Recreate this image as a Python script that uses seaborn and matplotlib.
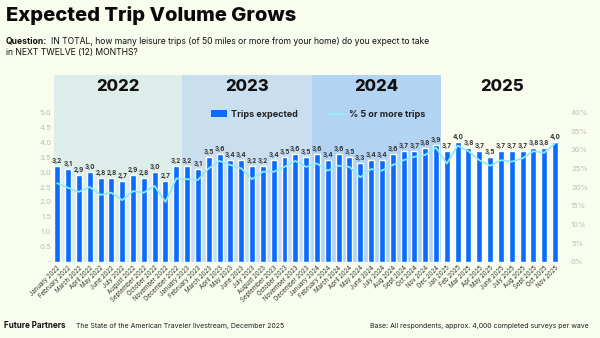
import numpy as np
import pandas as pd
import matplotlib
matplotlib.use("Agg")
import matplotlib.pyplot as plt
import seaborn as sns
from matplotlib.patches import Patch
from matplotlib.lines import Line2D

months = ["January 2022", "February 2022", "March 2022", "April 2022", "May 2022", "June 2022",
          "July 2022", "August 2022", "September 2022", "October 2022", "November 2022", "December 2022",
          "January 2023", "February 2023", "March 2023", "April 2023", "May 2023", "June 2023",
          "July 2023", "August 2023", "September 2023", "October 2023", "November 2023", "December 2023",
          "January 2024", "February 2024", "March 2024", "April 2024", "May 2024", "June 2024",
          "July 2024", "Aug 2024", "Sept 2024", "Oct 2024", "Nov 2024", "Dec 2024",
          "Jan 2025", "Feb 2025", "Mar 2025", "Apr 2025", "May 2025", "June 2025",
          "July 2025", "Aug 2025", "Sept 2025", "Oct 2025", "Nov 2025"]
trips = [3.2, 3.1, 2.9, 3.0, 2.8, 2.8, 2.7, 2.9, 2.8, 3.0, 2.7, 3.2,
         3.2, 3.1, 3.5, 3.6, 3.4, 3.4, 3.2, 3.2, 3.4, 3.5, 3.6, 3.5,
         3.6, 3.4, 3.6, 3.5, 3.3, 3.4, 3.4, 3.6, 3.7, 3.7, 3.8, 3.9,
         3.7, 4.0, 3.8, 3.7, 3.5, 3.7, 3.7, 3.7, 3.8, 3.8, 4.0]
pct5 = [21.0, 19.8, 18.7, 20.0, 17.9, 18.5, 16.5, 18.9, 18.5, 20.3, 16.0, 22.3,
        22.1, 21.9, 25.0, 27.0, 25.9, 25.0, 22.1, 24.1, 24.1, 25.4, 27.0, 25.4,
        26.3, 24.4, 25.7, 25.4, 22.6, 24.8, 24.4, 25.9, 27.2, 28.1, 28.6, 30.5,
        26.3, 31.1, 29.6, 27.2, 25.7, 27.2, 26.8, 27.7, 29.6, 29.2, 31.7]
years = ["2022", "2023", "2024", "2025"]
year_spans = [(-0.3, 11.5), (11.5, 23.5), (23.5, 35.5), (35.5, 46.7)]
year_colors = ["#DDEDE9", "#C9DFF0", "#B3D3F3", None]

BG = "#F8FDEE"
BAR = "#0A6CFF"
LINE = "#8EEBFF"

sns.set_theme(style="white")
plt.rcParams["font.family"] = ["Inter", "DejaVu Sans"]

df = pd.DataFrame({"month": months, "trips": trips, "pct": pct5})

fig = plt.figure(figsize=(6, 3.38), dpi=100, facecolor=BG)
ax = fig.add_axes([0.09, 0.2257, 0.8477, 0.5523])
ax.set_facecolor(BG)

for (x0, x1), c in zip(year_spans, year_colors):
    if c:
        ax.axvspan(x0, x1, color=c, zorder=0, lw=0)

sns.barplot(data=df, x="month", y="trips", color=BAR, width=0.55, ax=ax,
            saturation=1, zorder=2)
for i, v in enumerate(trips):
    ax.text(i, v + 0.07, f"{v:.1f}".replace(".", ","), ha="center", va="bottom",
            fontsize=4.6, color="#333333", fontweight="bold", zorder=5)

ax.set_xlim(-0.3, 46.7)
ax.set_ylim(0, 6.25)
ax.set_yticks(np.arange(0, 5.01, 0.5))
ax.set_yticklabels(["-"] + [f"{v:.1f}" for v in np.arange(0.5, 5.01, 0.5)],
                   fontsize=5.5, color="#BDBDBD")
ax.set_xticks(range(len(months)))
ax.set_xticklabels(months, rotation=45, ha="right", rotation_mode="anchor",
                   fontsize=4.4, color="#333333")
ax.tick_params(axis="both", length=0, pad=2)
ax.set_xlabel("")
ax.set_ylabel("")
for s in ax.spines.values():
    s.set_visible(False)

for (x0, x1), y in zip(year_spans, years):
    ax.text((x0 + x1) / 2, 5.85, y, ha="center", va="center", fontsize=12,
            fontweight="heavy", color="#111111")

ax2 = ax.twinx()
sns.lineplot(x=np.arange(len(pct5)), y=pct5, ax=ax2, color=LINE, lw=1.3, zorder=4)
ax2.set_ylim(0, 50)
ax2.set_yticks(np.arange(0, 41, 5))
ax2.set_yticklabels([f"{v}%" for v in range(0, 41, 5)], fontsize=5.5, color="#BDBDBD")
ax2.tick_params(axis="y", length=0, pad=6)
ax2.set_ylabel("")
for s in ax2.spines.values():
    s.set_visible(False)

handles = [Patch(facecolor=BAR, edgecolor="none"), Line2D([0], [0], color=LINE, lw=1.4)]
leg = fig.legend(handles, ["Trips expected", "% 5 or more trips"], ncol=2,
                 loc="center", bbox_to_anchor=(0.53, 0.662), frameon=False,
                 prop={"size": 6.5, "weight": "bold"}, columnspacing=3.5,
                 handlelength=1.8, handletextpad=0.4)
for t in leg.get_texts():
    t.set_color("#222222")

fig.text(0.01, 0.953, "Expected Trip Volume Grows", fontsize=14.5, fontweight="heavy",
         color="#0A0A0A", ha="left", va="center")
q = fig.text(0.01, 0.878, "Question:", fontsize=6.2, fontweight="bold", color="#111111",
             ha="left", va="center")
fig.canvas.draw()
bb = q.get_window_extent().transformed(fig.transFigure.inverted())
fig.text(bb.x1 + 0.006, 0.878,
         "IN TOTAL, how many leisure trips (of 50 miles or more from your home) do you expect to take",
         fontsize=6.2, color="#111111", ha="left", va="center")
fig.text(0.01, 0.845, "in NEXT TWELVE (12) MONTHS?", fontsize=6.2, color="#111111",
         ha="left", va="center")

fig.text(0.007, 0.036, "Future Partners", fontsize=5.8, fontweight="bold", color="#111111",
         ha="left", va="center")
fig.text(0.127, 0.036, "The State of the American Traveler livestream, December 2025",
         fontsize=5, color="#222222", ha="left", va="center")
fig.text(0.982, 0.036, "Base: All respondents, approx. 4,000 completed surveys per wave",
         fontsize=5, color="#222222", ha="right", va="center")

fig.savefig("out.png", dpi=100, facecolor=BG)
